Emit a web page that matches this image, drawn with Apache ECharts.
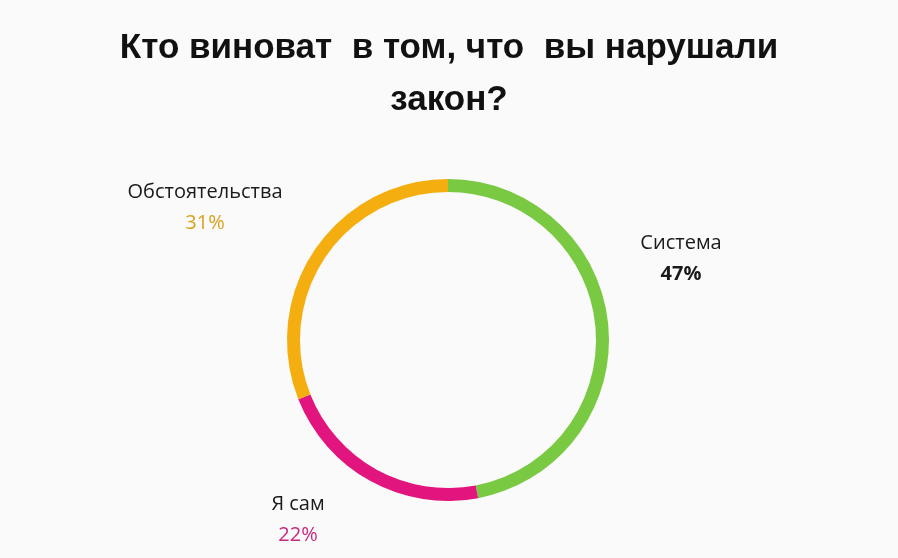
<!DOCTYPE html>
<html><head><meta charset="utf-8">
<script src="https://cdn.jsdelivr.net/npm/echarts@6/dist/echarts.min.js"></script>
<style>html,body{margin:0;padding:0;background:#fafafa}#c{width:898px;height:558px}</style>
</head><body><div id="c"></div>
<script>
const categories = ['Система', 'Я сам', 'Обстоятельства'];
const values = [47, 22, 31];
const colors = ['#7ac943', '#e2157f', '#f5ae0f'];
const pctColors = ['#1a1a1a', '#c8287f', '#d9a11e'];
const labelAnchors = [[681, 259], [298, 520], [205, 208]];

const chart = echarts.init(document.getElementById('c'));
chart.setOption({
  backgroundColor: '#fafafa',
  title: {
    text: 'Кто виноват  в том, что  вы нарушали\nзакон?',
    left: 'center', top: 17,
    textStyle: { fontFamily: '"Liberation Sans Narrow", "Arial Narrow", "Liberation Sans", sans-serif', fontWeight: 'bold', fontSize: 35, lineHeight: 52, color: '#111' }
  },
  series: [{
    type: 'pie',
    center: [448, 340],
    radius: [148, 161],
    startAngle: 90,
    clockwise: true,
    silent: true,
    labelLine: { show: false },
    label: {
      show: true,
      position: 'outside',
      formatter: p => '{n|' + p.name + '}\n{p' + p.dataIndex + '|' + p.value + '%}',
      rich: {
        n: { fontSize: 20, color: '#1a1a1a', lineHeight: 31, align: 'center', fontFamily: '"Open Sans", sans-serif' },
        p0: { fontSize: 20, color: pctColors[0], fontWeight: 'bold', lineHeight: 31, align: 'center', fontFamily: '"Open Sans", sans-serif' },
        p1: { fontSize: 20, color: pctColors[1], lineHeight: 31, align: 'center', fontFamily: '"Open Sans", sans-serif' },
        p2: { fontSize: 20, color: pctColors[2], lineHeight: 31, align: 'center', fontFamily: '"Open Sans", sans-serif' }
      }
    },
    labelLayout: p => ({ x: labelAnchors[p.dataIndex][0], y: labelAnchors[p.dataIndex][1], align: 'center', verticalAlign: 'middle' }),
    data: categories.map((c, i) => ({ name: c, value: values[i], itemStyle: { color: colors[i] } }))
  }]
});
</script></body></html>
